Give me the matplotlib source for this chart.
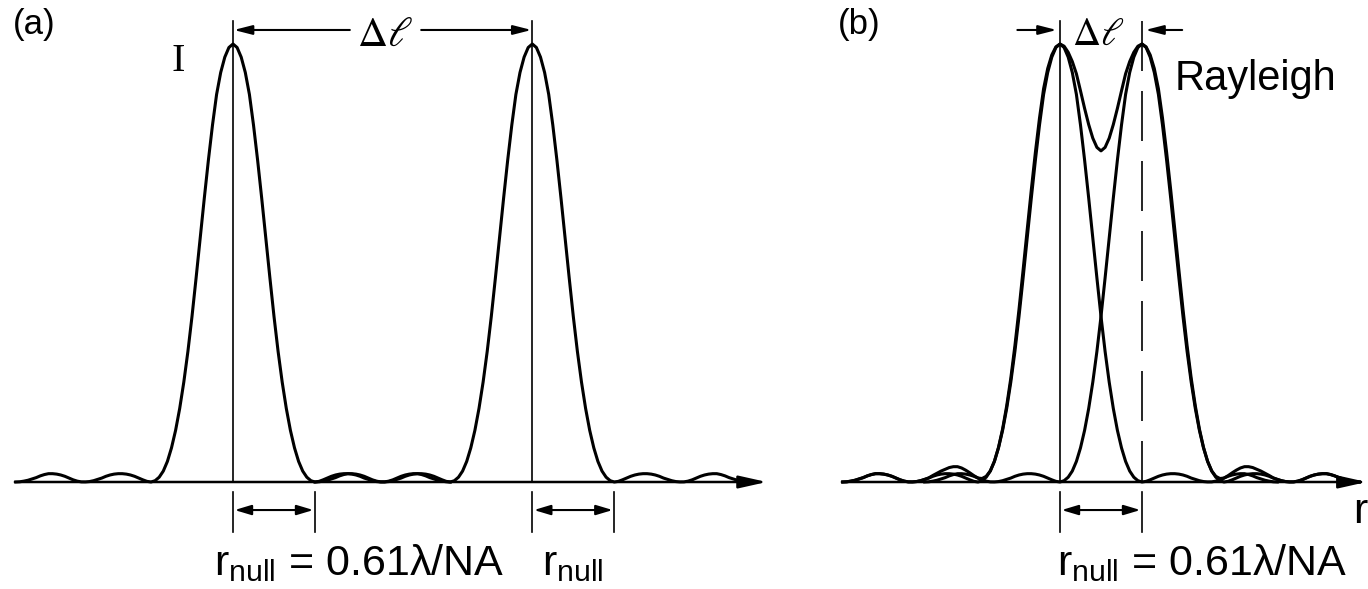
import numpy as np
import matplotlib
matplotlib.use("Agg")
import matplotlib.pyplot as plt

# ---------------- data ----------------
# half profile of one diffraction spot: offset in units of r_null, relative intensity
prof_u = [0.00, 0.05, 0.10, 0.15, 0.20, 0.25, 0.30, 0.35, 0.40, 0.45,
          0.50, 0.55, 0.60, 0.65, 0.70, 0.75, 0.80, 0.85, 0.90, 0.95,
          1.00, 1.05, 1.10, 1.15, 1.20, 1.25, 1.30, 1.35, 1.40, 1.45,
          1.50, 1.55, 1.60, 1.65, 1.70, 1.75, 1.80, 1.85, 1.90, 1.95,
          2.00, 2.05, 2.10, 2.15, 2.20, 2.25, 2.30, 2.35, 2.40, 2.45,
          2.50, 2.55, 2.60, 2.65]
prof_I = [1.000, 0.992, 0.970, 0.935, 0.885, 0.815, 0.735, 0.648, 0.557, 0.466,
          0.378, 0.298, 0.228, 0.168, 0.118, 0.078, 0.047, 0.025, 0.011, 0.003,
          0.000, 0.0015, 0.005, 0.009, 0.013, 0.016, 0.018, 0.019, 0.019, 0.018,
          0.016, 0.013, 0.009, 0.006, 0.003, 0.001, 0.0002, 0.0003, 0.002, 0.005,
          0.009, 0.013, 0.016, 0.018, 0.019, 0.019, 0.017, 0.014, 0.010, 0.007,
          0.004, 0.002, 0.0005, 0.000]
peaks_a = [0.0, 3.65]      # two well separated spots (units of r_null)
peaks_b = [0.0, 1.0]       # Rayleigh separation = r_null
r_null = 1.0

title_a = "(a)"
title_b = "(b)"
formula = r"r$_{\mathregular{null}}$ = 0.61λ/NA"
rnull_lbl = r"r$_{\mathregular{null}}$"
delta_lbl = r"$\Delta\ell$"

# ---------------- style ----------------
plt.rcParams["font.family"] = ["Liberation Sans", "DejaVu Sans"]
plt.rcParams["mathtext.fontset"] = "custom"
plt.rcParams["mathtext.rm"] = "Liberation Sans"
plt.rcParams["mathtext.it"] = "Liberation Sans:italic"

fig = plt.figure(figsize=(13.68, 5.89), dpi=100)
ylim = (-107 / 438, 482 / 438)
ax_a = fig.add_axes([0, 0, 800 / 1368, 1])
ax_b = fig.add_axes([800 / 1368, 0, 568 / 1368, 1])
ax_a.set_xlim(-233 / 82, 567 / 82)
ax_b.set_xlim(-260 / 82, 308 / 82)
for ax in (ax_a, ax_b):
    ax.set_ylim(*ylim)
    ax.axis("off")

u = np.array(prof_u)
I = np.array(prof_I)
xs = np.concatenate([-u[:0:-1], u])
ys = np.concatenate([I[:0:-1], I])

LW = 2.2
K = "black"


def axis_arrow(ax, x0, x1):
    ax.annotate("", xy=(x1, 0), xytext=(x0, 0),
                arrowprops=dict(arrowstyle="-|>,head_length=1.7,head_width=0.38",
                                lw=1.8, color=K, shrinkA=0, shrinkB=0),
                annotation_clip=False)


def dim_arrow(ax, xa, xb, y=-0.064, t0=-0.023, t1=-0.114):
    ax.plot([xa, xa], [t0, t1], color=K, lw=1.2)
    ax.plot([xb, xb], [t0, t1], color=K, lw=1.2)
    ax.annotate("", xy=(xb - 0.02, y), xytext=(xa + 0.02, y),
                arrowprops=dict(arrowstyle="<|-|>,head_length=1.0,head_width=0.3",
                                lw=1.5, color=K, shrinkA=0, shrinkB=0))


def single_arrow(ax, x0, x1, y):
    ax.annotate("", xy=(x1, y), xytext=(x0, y),
                arrowprops=dict(arrowstyle="-|>,head_length=1.1,head_width=0.28",
                                lw=1.5, color=K, shrinkA=0, shrinkB=0),
                annotation_clip=False)


# ---------------- panel (a) ----------------
axis_arrow(ax_a, -2.66, 6.51)
for p in peaks_a:
    ax_a.plot(xs + p, ys, color=K, lw=LW, solid_joinstyle="round")
    ax_a.plot([p, p], [0, 1.052], color=K, lw=1.2)
    dim_arrow(ax_a, p, p + r_null)

ya = 1.032
mid_a = 0.5 * (peaks_a[0] + peaks_a[1])
single_arrow(ax_a, mid_a - 0.40, peaks_a[0] + 0.01, ya)
single_arrow(ax_a, mid_a + 0.47, peaks_a[1] - 0.01, ya)
ax_a.text(mid_a + 0.03, ya - 0.01, delta_lbl, ha="center", va="center",
          fontsize=30, math_fontfamily="stix")
ax_a.text(peaks_a[0] - 0.67, 0.96, "I", ha="center", va="center",
          fontsize=29, family="Liberation Serif")
ax_a.text(-2.42, 1.045, title_a, ha="center", va="center", fontsize=25)
ax_a.text(peaks_a[0] + 1.54, -0.212, formula, ha="center", va="baseline", fontsize=31)
ax_a.text(peaks_a[1] + 0.49, -0.212, rnull_lbl, ha="center", va="baseline", fontsize=31)

# ---------------- panel (b) ----------------
axis_arrow(ax_b, -2.66, 3.74)
for p in peaks_b:
    ax_b.plot(xs + p, ys, color=K, lw=LW, solid_joinstyle="round")
grid = np.round(np.arange(xs[0] + peaks_b[0], xs[-1] + peaks_b[1] + 1e-9, 0.05), 4)
tot = (np.interp(grid, xs + peaks_b[0], ys, left=0, right=0)
       + np.interp(grid, xs + peaks_b[1], ys, left=0, right=0))
ax_b.plot(grid, tot, color=K, lw=LW, solid_joinstyle="round")

ax_b.plot([peaks_b[0], peaks_b[0]], [0, 1.052], color=K, lw=1.2)
ax_b.plot([peaks_b[1], peaks_b[1]], [1.052, 0], color=K, lw=1.2,
          linestyle=(0, (30, 12)))
dim_arrow(ax_b, peaks_b[0], peaks_b[0] + r_null)

yb = 1.032
single_arrow(ax_b, peaks_b[0] - 0.52, peaks_b[0] - 0.04, yb)
single_arrow(ax_b, peaks_b[1] + 0.49, peaks_b[1] + 0.04, yb)
ax_b.text(0.47, yb - 0.01, delta_lbl, ha="center", va="center",
          fontsize=28, math_fontfamily="stix")
ax_b.text(-2.45, 1.045, title_b, ha="center", va="center", fontsize=25)
ax_b.text(1.40, 0.92, "Rayleigh", ha="left", va="center", fontsize=30)
ax_b.text(1.73, -0.212, formula, ha="center", va="baseline", fontsize=31)
ax_b.text(3.58, -0.094, "r", ha="left", va="baseline", fontsize=31)

fig.savefig("out.png", dpi=100)
